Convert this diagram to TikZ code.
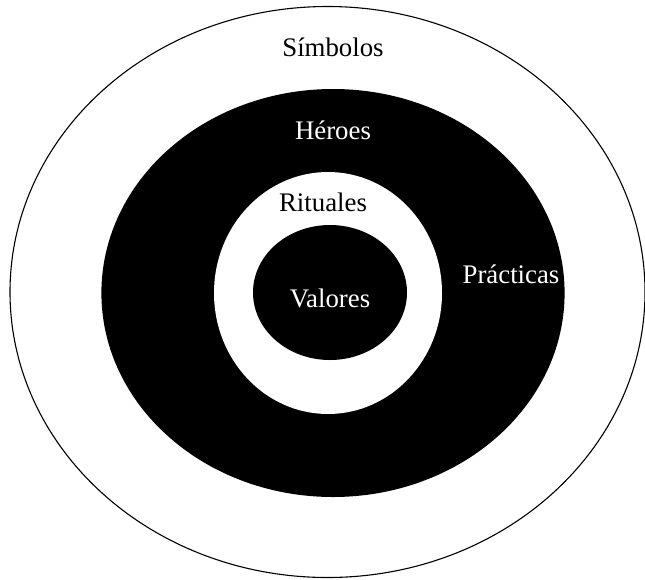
\documentclass[tikz,border=0pt]{standalone}
\usepackage{fontspec}
\setmainfont{Liberation Serif}
\begin{document}
\begin{tikzpicture}[x=1pt,y=-1pt,
  lbl/.style={inner sep=0pt,font=\fontsize{26.8}{32}\selectfont},
  wlbl/.style={lbl,text=white}]
\useasboundingbox (0,0) rectangle (645,579);
\fill[white] (0,0) rectangle (645,579);
\draw[line width=1.1pt,fill=white] (327.5,292) ellipse [x radius=317.5,y radius=285.5];
\fill[black] (333,293) ellipse [x radius=231.6,y radius=204];
\fill[white] (328,293) ellipse [x radius=114,y radius=121];
\fill[black] (330,292.5) ellipse [x radius=77,y radius=67.5];
\node[lbl] (simbolos) at (333,47) {Símbolos};
\node[wlbl] (heroes) at (333,130) {Héroes};
\node[lbl] (rituales) at (323,202) {Rituales};
\node[wlbl] (practicas) at (511,274) {Prácticas};
\node[wlbl] (valores) at (330,298) {Valores};
\end{tikzpicture}
\end{document}
